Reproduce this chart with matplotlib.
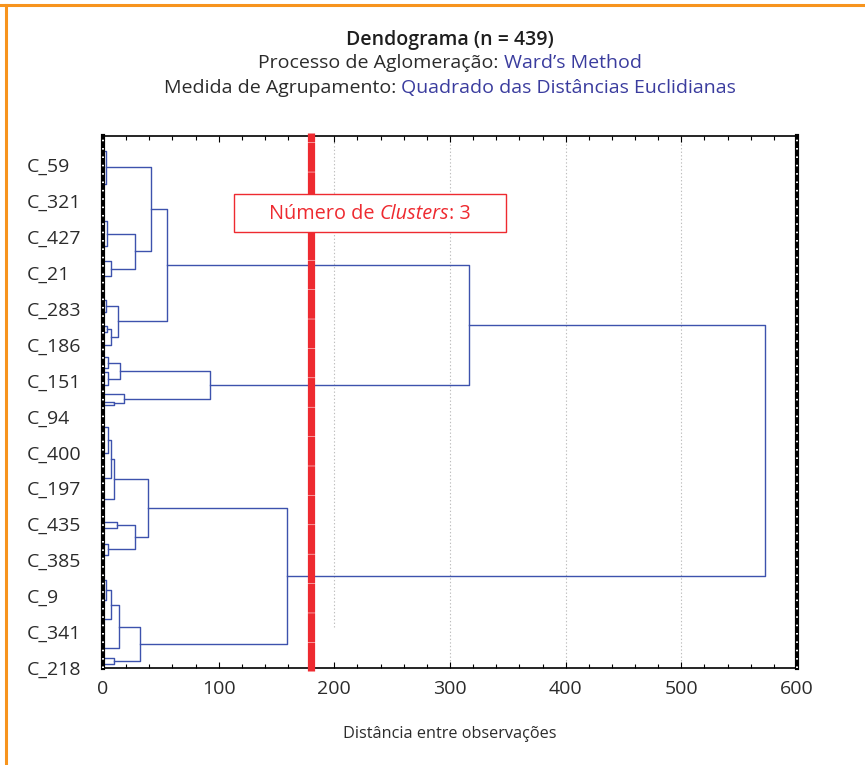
import numpy as np
import matplotlib.pyplot as plt
from matplotlib.lines import Line2D
from matplotlib.patches import Rectangle
from matplotlib.ticker import MultipleLocator

plt.rcParams['font.family'] = ['Open Sans', 'DejaVu Sans']

# leaf labels shown on the y axis (top to bottom) and their leaf positions
labels = ['C_59', 'C_321', 'C_427', 'C_21', 'C_283', 'C_186', 'C_151', 'C_94',
          'C_400', 'C_197', 'C_435', 'C_385', 'C_9', 'C_341', 'C_218']
label_pos = [24, 54, 84, 114, 144, 174, 204, 234, 264, 294, 324, 354, 384, 414, 444]

# dendrogram links: merge height, y of upper child, y of lower child,
# height of upper child, height of lower child
link_h    = [572.0, 316.2, 55.4, 41.8, 3.0, 27.8, 3.5, 6.7, 13.1, 2.4, 7.1, 3.3,
             92.1, 14.5, 4.1, 4.1, 18.3, 9.1,
             158.9, 39.0, 9.1, 6.7, 3.9, 27.8, 11.9, 4.7, 31.8, 14.2, 6.7, 2.4, 9.7]
link_ytop = [157.8, 108.0, 61.15, 26.1, 12.5, 81.6, 71.0, 104.6, 141.9, 137.0, 160.8, 158.3,
             195.75, 189.1, 184.5, 197.0, 215.6, 221.8,
             310.75, 286.5, 269.75, 253.8, 242.7, 325.0, 322.5, 340.5, 409.4, 391.2, 378.95, 370.6, 436.0]
link_ybot = [367.3, 207.55, 154.8, 96.2, 39.7, 110.8, 92.2, 117.0, 167.65, 146.8, 174.5, 163.3,
             219.35, 202.4, 193.7, 207.8, 223.1, 224.4,
             423.8, 335.0, 303.3, 285.7, 264.9, 345.0, 327.5, 349.5, 438.25, 427.6, 403.4, 387.3, 440.5]
link_htop = [316.2, 55.4, 41.8, 3.0, 0, 3.5, 0, 0, 2.4, 0, 3.3, 0,
             14.5, 4.1, 0, 0, 0, 0,
             39.0, 9.1, 6.7, 3.9, 0, 11.9, 0, 0, 14.2, 6.7, 2.4, 0, 0]
link_hbot = [158.9, 92.1, 13.1, 27.8, 0, 6.7, 0, 0, 7.1, 0, 0, 0,
             18.3, 4.1, 0, 0, 9.1, 0,
             31.8, 27.8, 0, 0, 0, 4.7, 0, 0, 9.7, 0, 0, 0, 0]

cut_height = 180
grid_x = [200, 300, 400, 500]
xticks = [0, 100, 200, 300, 400, 500, 600]

W, H = 865, 765
fig = plt.figure(figsize=(W / 100, H / 100), dpi=100)
ax = fig.add_axes([103 / W, 1 - 668 / H, 694 / W, 532 / H])

blue = '#3D52AD'
red = '#EE2A30'
dark = '#2B2B2B'
navy = '#3A3C9E'

for h, yt, yb, ht, hb in zip(link_h, link_ytop, link_ybot, link_htop, link_hbot):
    ax.plot([ht, h, h, hb], [yt, yt, yb, yb], color=blue, lw=1.0, zorder=3)

# dotted grid
for gx in grid_x:
    ymin = 0.077 if gx == 200 else 0
    ax.axvline(gx, ymin=ymin, ymax=1, color='#BDBDBD', lw=0.8,
               linestyle=(0, (1.2, 2)), zorder=1)

# cut line
ax.axvline(cut_height, ymin=-0.005, ymax=1.006, color=red, lw=5.2,
           linestyle=(0, (4, 0.07)), zorder=4, clip_on=False)

ax.set_xlim(0, 600)
ax.set_ylim(444, 0)
ax.set_xticks(xticks)
ax.xaxis.set_minor_locator(MultipleLocator(20))
ax.set_yticks(label_pos)
ax.set_yticklabels(labels, ha='left')
ax.tick_params(axis='y', which='both', length=0, pad=54.7, labelsize=14, labelcolor=dark)
ax.tick_params(axis='x', which='both', direction='in', top=True, labelsize=14,
               labelcolor=dark, pad=9)
ax.tick_params(axis='x', which='major', length=4, width=0.8)
ax.tick_params(axis='x', which='minor', length=3, width=0.8)
ax.set_xlabel('Distância entre observações', fontsize=11.7, color=dark, labelpad=20)

for s in ['top', 'bottom']:
    ax.spines[s].set_linewidth(1.2)
for s in ['left', 'right']:
    ax.spines[s].set_linewidth(3.0)
    ax.spines[s].set_zorder(5)
for xv in [0, 600]:
    ax.axvline(xv, color='white', lw=1.4, linestyle=(0, (0.8, 3.5)), zorder=6, clip_on=False)

# annotation box
ax.add_patch(Rectangle((0.189, 0.8195), 0.392, 0.0715, transform=ax.transAxes,
                       facecolor='white', edgecolor=red, lw=1.0, zorder=7))


def rich_text(cx, cy, parts, size):
    # parts: (string, colour, style, weight); centred as one line at (cx, cy) px
    texts = []
    for s, c, st, wt in parts:
        texts.append(fig.text(0, 1 - cy / H, s, color=c, fontsize=size, style=st,
                              weight=wt, va='center', ha='left', zorder=8))
    fig.canvas.draw()
    r = fig.canvas.get_renderer()
    widths = [t.get_window_extent(r).width for t in texts]
    x = cx - sum(widths) / 2
    for t, w in zip(texts, widths):
        t.set_x(x / W)
        x += w


rich_text(450, 40, [('Dendograma (n = 439)', '#1E1E1E', 'normal', 'semibold')], 14)
rich_text(450, 63, [('Processo de Aglomeração: ', dark, 'normal', 'normal'),
                    ('Ward’s Method', navy, 'normal', 'normal')], 14)
rich_text(450, 88, [('Medida de Agrupamento: ', dark, 'normal', 'normal'),
                    ('Quadrado das Distâncias Euclidianas', navy, 'normal', 'normal')], 14)
rich_text(370, 214, [('Número de ', red, 'normal', 'normal'),
                     ('Clusters', red, 'italic', 'normal'),
                     (': 3', red, 'normal', 'normal')], 14.3)

# orange frame on top and left
fig.add_artist(Line2D([0, 1], [1 - 5 / H, 1 - 5 / H], color='#F7941D', lw=2.2,
                      transform=fig.transFigure))
fig.add_artist(Line2D([6 / W, 6 / W], [0, 1 - 5 / H], color='#F7941D', lw=2.2,
                      transform=fig.transFigure))

fig.savefig('out.png', dpi=100)
